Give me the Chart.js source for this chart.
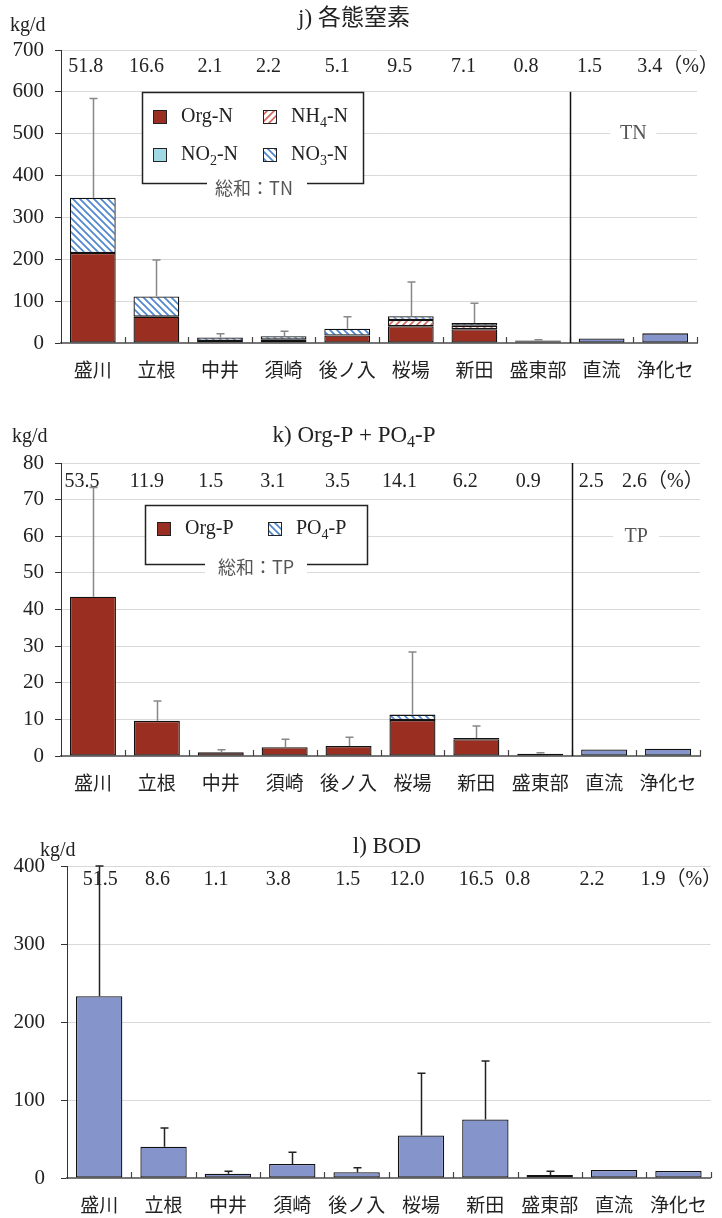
<!DOCTYPE html>
<html><head><meta charset="utf-8">
<script src="https://cdn.jsdelivr.net/npm/chart.js@4.4.1/dist/chart.umd.min.js"></script>
<style>
html,body{margin:0;padding:0;background:#fff;}
#wrap{position:relative;width:722px;height:1218px;overflow:hidden;}
canvas{position:absolute;left:0;}
</style></head><body>
<div id="wrap">
<canvas id="cN" width="722" height="395" style="top:0px"></canvas>
<canvas id="cP" width="722" height="405" style="top:395px"></canvas>
<canvas id="cB" width="722" height="418" style="top:800px"></canvas>
</div>
<script>
// ---------- data ----------
const categories = ['盛川','立根','中井','須崎','後ノ入','桜場','新田','盛東部','直流','浄化セ'];

// j) nitrogen (kg/d)
const orgN = [215, 63, 5, 7, 18, 40, 33, 4, null, null];
const nh4N = [0, 0, 0, 1, 0, 15, 8, 0, null, null];
const no2N = [0, 0, 0, 0, 0, 0, 0, 0, null, null];
const no3N = [132, 48, 8, 8, 16, 9, 7, 2, null, null];
const tnOther = [null, null, null, null, null, null, null, null, 11, 23];
const errN = [237, 87, 9, 12, 29, 82, 47, 2, 0, 0];
const pctN = ['51.8','16.6','2.1','2.2','5.1','9.5','7.1','0.8','1.5','3.4'];

// k) phosphorus (kg/d)
const orgP = [43.5, 9.6, 1.0, 2.4, 2.7, 9.8, 4.6, 0.6, null, null];
const po4P = [0, 0, 0, 0, 0, 1.5, 0.3, 0, null, null];
const tpOther = [null, null, null, null, null, null, null, null, 1.8, 2.0];
const errP = [29.8, 5.4, 0.7, 2.2, 2.4, 17.1, 3.3, 0.3, 0, 0];
const pctP = ['53.5','11.9','1.5','3.1','3.5','14.1','6.2','0.9','2.5','2.6'];

// l) BOD (kg/d)
const bod = [233, 40, 5.6, 18, 7.3, 54.4, 75, 3.9, 10.3, 9];
const errBOD = [167, 24, 3, 15, 6, 80, 75, 4.7, 0, 0];
const pctBOD = ['51.5','8.6','1.1','3.8','1.5','12.0','16.5','0.8','2.2','1.9'];

// y tick range
const yMaxN = 700, yStepN = 100;
const yMaxP = 80, yStepP = 10;
const yMaxB = 400, yStepB = 100;

// ---------- styles ----------
const SERIF = "'Liberation Serif','Noto Sans CJK JP',serif";
const CJK = "'Noto Sans CJK JP','Liberation Serif',sans-serif";
const RED = '#9a2f21';
const BLUE = '#8595cb';
const CYAN = '#9fd9e3';

function hatch(color, dir){
  const s = 7;
  const c = document.createElement('canvas'); c.width = s; c.height = s;
  const g = c.getContext('2d');
  g.fillStyle = '#fff'; g.fillRect(0,0,s,s);
  g.strokeStyle = color; g.lineWidth = 1.7;
  g.beginPath();
  if (dir === '\\'){
    g.moveTo(-1,-1); g.lineTo(s+1,s+1);
    g.moveTo(-1,s-1); g.lineTo(1,s+1);
    g.moveTo(s-1,-1); g.lineTo(s+1,1);
  } else {
    g.moveTo(-1,s+1); g.lineTo(s+1,-1);
    g.moveTo(-1,1); g.lineTo(1,-1);
    g.moveTo(s-1,s+1); g.lineTo(s+1,s-1);
  }
  g.stroke();
  return document.getElementById('cN').getContext('2d').createPattern(c,'repeat');
}
const HATCH_BLUE = hatch('#4f86d0','\\');
const HATCH_RED = hatch('#d4695c','/');

function richText(ctx, str, x, y, size, font, align, color){
  const parts = []; const re = /_(\d)/g; let last = 0, m;
  while ((m = re.exec(str))){ if (m.index > last) parts.push({t:str.slice(last,m.index),s:false}); parts.push({t:m[1],s:true}); last = re.lastIndex; }
  if (last < str.length) parts.push({t:str.slice(last),s:false});
  const sub = Math.round(size*0.68);
  let w = 0;
  parts.forEach(p=>{ ctx.font = (p.s?sub:size)+'px '+font; p.w = ctx.measureText(p.t).width; w += p.w; });
  let cx = align==='center' ? x - w/2 : (align==='right' ? x - w : x);
  ctx.fillStyle = color; ctx.textBaseline = 'middle'; ctx.textAlign = 'left';
  parts.forEach(p=>{ ctx.font = (p.s?sub:size)+'px '+font; ctx.fillText(p.t, cx, p.s ? y + size*0.3 : y); cx += p.w; });
  return w;
}

const overlay = {
  id: 'overlay',
  afterDatasetsDraw(chart, args, o){
    const ctx = chart.ctx, x = chart.scales.x, y = chart.scales.y, ca = chart.chartArea;
    const n = chart.data.labels.length;
    const step = x.getPixelForValue(1) - x.getPixelForValue(0);
    ctx.save();
    // inward category ticks
    ctx.strokeStyle = '#444'; ctx.lineWidth = 1.2;
    for (let i = 1; i <= n; i++){
      const px = Math.round(x.getPixelForValue(i) - step/2) + 0.5;
      ctx.beginPath(); ctx.moveTo(px, ca.bottom); ctx.lineTo(px, ca.bottom - 6); ctx.stroke();
    }
    // error bars
    ctx.strokeStyle = o.errColor; ctx.lineWidth = 1.5;
    o.errs.forEach((e,i)=>{
      if (!e) return;
      let tot = 0; chart.data.datasets.forEach(d=>{ tot += d.data[i] || 0; });
      const px = Math.round(x.getPixelForValue(i)) + 0.5;
      const y0 = y.getPixelForValue(tot), y1 = y.getPixelForValue(tot + e);
      ctx.beginPath(); ctx.moveTo(px, y0); ctx.lineTo(px, y1);
      ctx.moveTo(px-4, y1); ctx.lineTo(px+4, y1); ctx.stroke();
    });
    // separator
    if (o.sepAfter != null){
      const px = Math.round((x.getPixelForValue(o.sepAfter) + x.getPixelForValue(o.sepAfter+1))/2) + 0.5;
      ctx.strokeStyle = '#111'; ctx.lineWidth = 1.5;
      ctx.beginPath(); ctx.moveTo(px, y.getPixelForValue(o.sepTop)); ctx.lineTo(px, ca.bottom); ctx.stroke();
    }
    // side label (TN / TP)
    if (o.side){
      const px = (x.getPixelForValue(n-2) + x.getPixelForValue(n-1))/2;
      const py = y.getPixelForValue(o.side.value);
      ctx.fillStyle = '#fff'; ctx.fillRect(px - o.side.gap/2, py - 3, o.side.gap, 6);
      richText(ctx, o.side.text, px, py, 20, SERIF, 'center', '#555');
    }
    // legend box
    if (o.legend){
      const L = o.legend; const b = L.box;
      ctx.fillStyle = '#fff'; ctx.fillRect(b[0], b[1], b[2]-b[0], b[3]-b[1]);
      ctx.strokeStyle = '#222'; ctx.lineWidth = 1.5; ctx.strokeRect(b[0]+0.5, b[1]+0.5, b[2]-b[0], b[3]-b[1]);
      L.items.forEach(it=>{
        const ds = chart.data.datasets[it.ds];
        ctx.fillStyle = ds.backgroundColor; ctx.fillRect(it.x, it.y-7, 14, 14);
        ctx.strokeStyle = '#222'; ctx.lineWidth = 1; ctx.strokeRect(it.x+0.5, it.y-6.5, 13, 13);
        richText(ctx, ds.label, it.x + 28, it.y, 20, SERIF, 'left', '#222');
      });
      ctx.fillStyle = '#fff'; ctx.fillRect(L.gap[0], b[3]-4, L.gap[1]-L.gap[0], 16);
      ctx.font = '18px ' + CJK; ctx.fillStyle = '#555'; ctx.textAlign = 'center'; ctx.textBaseline = 'middle';
      ctx.fillText(L.title, L.titleX, L.titleY);
    }
    ctx.restore();
  },
  afterDraw(chart, args, o){
    const ctx = chart.ctx, x = chart.scales.x;
    const n = chart.data.labels.length;
    ctx.save();
    richText(ctx, o.title, o.titleX, o.titleY, 23, SERIF, 'center', '#222');
    ctx.font = '20px ' + SERIF; ctx.fillStyle = '#222'; ctx.textAlign = 'left'; ctx.textBaseline = 'middle';
    ctx.fillText('kg/d', o.unitX, o.unitY);
    o.pct.forEach((v,i)=>{
      const px = x.getPixelForValue(i) + o.pctOff[i];
      ctx.font = '20px ' + SERIF; ctx.fillStyle = '#222'; ctx.textBaseline = 'middle';
      if (i < n-1){ ctx.textAlign = 'center'; ctx.fillText(v, px, o.pctY); }
      else { ctx.textAlign = 'left'; ctx.fillText(v + '（%）', px, o.pctY); }
    });
    ctx.restore();
  }
};

function makeOptions(c){
  return {
    responsive: false, animation: false, devicePixelRatio: 1,
    layout: { padding: { left: 0, right: c.padR, top: c.padT, bottom: c.padB } },
    plugins: { legend: { display: false }, title: { display: false }, tooltip: { enabled: false }, overlay: c.overlay },
    datasets: { bar: { categoryPercentage: 1, barPercentage: 0.72, borderColor: '#111', borderWidth: 1.3, borderSkipped: false } },
    scales: {
      x: {
        stacked: true,
        grid: { display: true, color: 'rgba(0,0,0,0)', drawTicks: false },
        border: { display: true, color: '#777', width: 2 },
        ticks: { font: { family: CJK, size: 19 }, color: '#222', padding: 15, maxRotation: 0, autoSkip: false },
        afterFit: s => { s.height = 40; }
      },
      y: {
        stacked: true, min: 0, max: c.max,
        ticks: { stepSize: c.step, font: { family: SERIF, size: 21 }, color: '#222', padding: c.tickPad },
        grid: { color: '#d9d9d9', lineWidth: 1, tickColor: '#333', tickLength: 6 },
        border: { color: '#333', width: 1 },
        afterFit: s => { s.width = c.left; }
      }
    }
  };
}

// ---------- chart j ----------
new Chart(document.getElementById('cN'), {
  type: 'bar',
  data: {
    labels: categories,
    datasets: [
      { label: 'Org-N', data: orgN, backgroundColor: RED },
      { label: 'NH_4-N', data: nh4N, backgroundColor: HATCH_RED },
      { label: 'NO_2-N', data: no2N, backgroundColor: CYAN },
      { label: 'NO_3-N', data: no3N, backgroundColor: HATCH_BLUE },
      { label: 'TN', data: tnOther, backgroundColor: BLUE }
    ]
  },
  options: makeOptions({
    padR: 25, padT: 50, padB: 12, left: 61, max: yMaxN, step: yStepN, tickPad: 11,
    overlay: {
      title: 'j) 各態窒素', titleX: 354, titleY: 19, unitX: 10, unitY: 26,
      pct: pctN, pctOff: [-7,-10,-10,-15,-10,-11,-11,-12,-12,-28], pctY: 67,
      errs: errN, errColor: '#888',
      sepAfter: 7, sepTop: 600,
      side: { text: 'TN', value: 500, gap: 46 },
      legend: {
        box: [142, 92, 363, 183],
        items: [ {ds:0, x:153, y:117}, {ds:1, x:263, y:117}, {ds:2, x:153, y:155}, {ds:3, x:263, y:155} ],
        title: '総和：TN', titleX: 254, titleY: 188, gap: [207, 307]
      }
    }
  }),
  plugins: [overlay]
});

// ---------- chart k ----------
new Chart(document.getElementById('cP'), {
  type: 'bar',
  data: {
    labels: categories,
    datasets: [
      { label: 'Org-P', data: orgP, backgroundColor: RED },
      { label: 'PO_4-P', data: po4P, backgroundColor: HATCH_BLUE },
      { label: 'TP', data: tpOther, backgroundColor: BLUE }
    ]
  },
  options: makeOptions({
    padR: 22, padT: 68, padB: 4, left: 61, max: yMaxP, step: yStepP, tickPad: 11,
    overlay: {
      title: 'k) Org-P + PO_4-P', titleX: 354, titleY: 41, unitX: 12, unitY: 42,
      pct: pctP, pctOff: [-11,-10,-10,-12,-11,-13,-11,-12,-13,-46], pctY: 87,
      errs: errP, errColor: '#888',
      sepAfter: 7, sepTop: 80,
      side: { text: 'TP', value: 60, gap: 46 },
      legend: {
        box: [145, 110, 367, 169],
        items: [ {ds:0, x:157, y:134}, {ds:1, x:268, y:134} ],
        title: '総和：TP', titleX: 256, titleY: 172, gap: [205, 307]
      }
    }
  }),
  plugins: [overlay]
});

// ---------- chart l ----------
new Chart(document.getElementById('cB'), {
  type: 'bar',
  data: {
    labels: categories,
    datasets: [ { label: 'BOD', data: bod, backgroundColor: BLUE } ]
  },
  options: makeOptions({
    padR: 1, padT: 66, padB: 0, left: 67, max: yMaxB, step: yStepB, tickPad: 16,
    overlay: {
      title: 'l) BOD', titleX: 387, titleY: 47, unitX: 40, unitY: 51,
      pct: pctBOD, pctOff: [1,-6,-12,-14,-9,-14,-9,-32,-22,-38], pctY: 80,
      errs: errBOD, errColor: '#222',
      sepAfter: null
    }
  }),
  plugins: [overlay]
});
</script>
</body></html>
